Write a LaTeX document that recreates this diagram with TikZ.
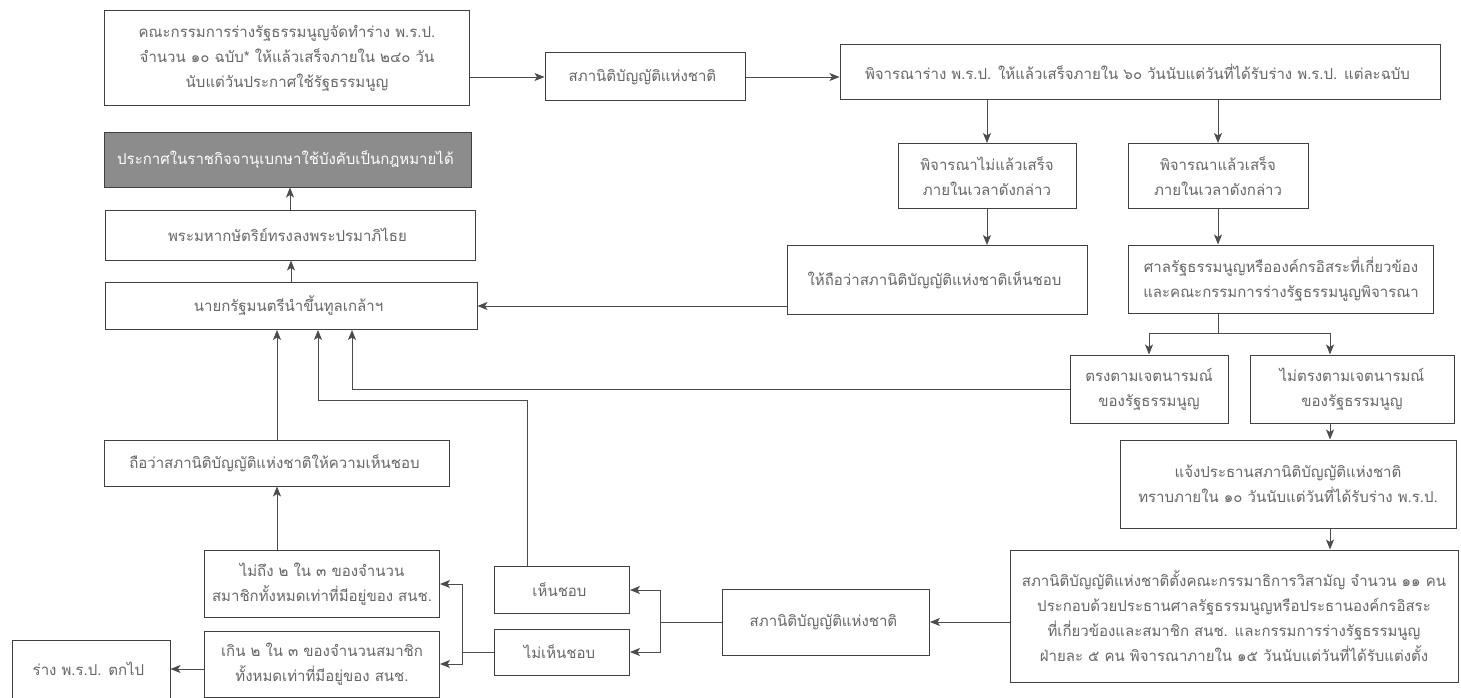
\documentclass[tikz,border=0pt]{standalone}
\usepackage{fontspec}
\usepackage{tikz}
\newfontfamily\thaifont[Script=Thai]{Loma}
\usetikzlibrary{arrows.meta, positioning}

\begin{document}
\begin{tikzpicture}[
            x=1pt, y=-1pt,
            color=black!70,
            >={Stealth[length=10pt,width=8pt,inset=2.5pt]},
                base/.style = {rectangle, draw=black!75, line width=1pt,
                            text centered, text=black!60,
                            font=\thaifont\fontsize{15}{25}\selectfont},
                process/.style = {base, fill=white},
                publish/.style = {base, fill=black!45, text=white},
            line width=0.8pt,
            align=center]
            \useasboundingbox (0,0) rectangle (1461,698);
            % left column
            \node (Draft) [process, minimum width=365, minimum height=95] at (287,58) {
                คณะกรรมการร่างรัฐธรรมนูญจัดทำร่าง พ.ร.ป.\\
                จำนวน ๑๐ ฉบับ* ให้แล้วเสร็จภายใน ๒๔๐ วัน\\
                นับแต่วันประกาศใช้รัฐธรรมนูญ
            };
            \node (Publish) [publish, minimum width=367, minimum height=54] at (288,160) {
                ประกาศในราชกิจจานุเบกษาใช้บังคับเป็นกฎหมายได้
            };
            \node (King) [process, minimum width=370, minimum height=50] at (290,235) {
                พระมหากษัตริย์ทรงลงพระปรมาภิไธย
            };
            \node (PrimeMinister) [process, minimum width=372, minimum height=47] at (291,306) {
                นายกรัฐมนตรีนำขึ้นทูลเกล้าฯ
            };
            \node (DeemedConsent) [process, minimum width=345, minimum height=46] at (277,463) {
                ถือว่าสภานิติบัญญัติแห่งชาติให้ความเห็นชอบ
            };
            \node (BelowTwoThirds) [process, minimum width=235, minimum height=67] at (322,584) {
                ไม่ถึง ๒ ใน ๓ ของจำนวน\\
                สมาชิกทั้งหมดเท่าที่มีอยู่ของ สนช.
            };
            \node (AboveTwoThirds) [process, minimum width=235, minimum height=66] at (322,664) {
                เกิน ๒ ใน ๓ ของจำนวนสมาชิก\\
                ทั้งหมดเท่าที่มีอยู่ของ สนช.
            };
            \node (Lapse) [process, minimum width=158, minimum height=58] at (91,669) {
                ร่าง พ.ร.ป. ตกไป
            };
            % top row
            \node (Assembly) [process, minimum width=200, minimum height=48] at (645,77) {
                สภานิติบัญญัติแห่งชาติ
            };
            \node (Consider) [process, minimum width=600, minimum height=55] at (1140,72) {
                พิจารณาร่าง พ.ร.ป. ให้แล้วเสร็จภายใน ๖๐ วันนับแต่วันที่ได้รับร่าง พ.ร.ป. แต่ละฉบับ
            };
            \node (NotDone) [process, minimum width=178, minimum height=65] at (987,176) {
                พิจารณาไม่แล้วเสร็จ\\
                ภายในเวลาดังกล่าว
            };
            \node (Done) [process, minimum width=180, minimum height=65] at (1218,176) {
                พิจารณาแล้วเสร็จ\\
                ภายในเวลาดังกล่าว
            };
            \node (Deemed) [process, minimum width=300, minimum height=69] at (937,280) {
                ให้ถือว่าสภานิติบัญญัติแห่งชาติเห็นชอบ
            };
            \node (Court) [process, minimum width=305, minimum height=68] at (1281,279) {
                ศาลรัฐธรรมนูญหรือองค์กรอิสระที่เกี่ยวข้อง\\
                และคณะกรรมการร่างรัฐธรรมนูญพิจารณา
            };
            \node (Consistent) [process, minimum width=158, minimum height=68] at (1149,389) {
                ตรงตามเจตนารมณ์\\
                ของรัฐธรรมนูญ
            };
            \node (Inconsistent) [process, minimum width=204, minimum height=68] at (1352,389) {
                ไม่ตรงตามเจตนารมณ์\\
                ของรัฐธรรมนูญ
            };
            \node (Notify) [process, minimum width=336, minimum height=88] at (1288,484) {
                แจ้งประธานสภานิติบัญญัติแห่งชาติ\\
                ทราบภายใน ๑๐ วันนับแต่วันที่ได้รับร่าง พ.ร.ป.
            };
            \node (Committee) [process, minimum width=448, minimum height=132] at (1234,616) {
                สภานิติบัญญัติแห่งชาติตั้งคณะกรรมาธิการวิสามัญ จำนวน ๑๑ คน\\
                ประกอบด้วยประธานศาลรัฐธรรมนูญหรือประธานองค์กรอิสระ\\
                ที่เกี่ยวข้องและสมาชิก สนช. และกรรมการร่างรัฐธรรมนูญ\\
                ฝ่ายละ ๕ คน พิจารณาภายใน ๑๕ วันนับแต่วันที่ได้รับแต่งตั้ง
            };
            \node (AssemblyVote) [process, minimum width=207, minimum height=66] at (826,622) {
                สภานิติบัญญัติแห่งชาติ
            };
            \node (Approve) [process, minimum width=135, minimum height=47] at (562,590) {
                เห็นชอบ
            };
            \node (Reject) [process, minimum width=135, minimum height=46] at (562,652) {
                ไม่เห็นชอบ
            };
            % bends
            \coordinate (CourtSplit) at (1218,333);
            \coordinate (VoteSplit) at (660,622);
            \coordinate (RejectSplit) at (462,652);
            \coordinate (ApproveBend) at (318,400);
            \coordinate (ConsistentBend) at (352,389);
            % arrows
            \draw[->]  (Draft.east |- Assembly.west)  -- (Assembly.west);
            \draw[->]  (Assembly.east)  -- (Assembly.east -| Consider.west);
            \draw[->]  (Consider.south -| NotDone.north)  -- (NotDone.north);
            \draw[->]  (Consider.south -| Done.north)     -- (Done.north);
            \draw[->]  (NotDone.south)  -- (NotDone.south |- Deemed.north);
            \draw[->]  (Done.south)     -- (Done.south |- Court.north);
            \draw      (Court.south -| CourtSplit) -- (CourtSplit);
            \draw[->]  (CourtSplit) -| (Consistent.north);
            \draw[->]  (CourtSplit) -| ([xshift=-22pt]Inconsistent.north);
            \draw[->]  ([xshift=-22pt]Inconsistent.south) -- ([xshift=-22pt]Inconsistent.south |- Notify.north);
            \draw[->]  ([xshift=-22pt]Inconsistent.south |- Notify.south) -- ([xshift=-22pt]Inconsistent.south |- Committee.north);
            \draw[->]  (Committee.west |- AssemblyVote.east) -- (AssemblyVote.east);
            \draw      (AssemblyVote.west) -- (VoteSplit);
            \draw[->]  (VoteSplit) |- (Approve.east);
            \draw[->]  (VoteSplit) |- (Reject.east);
            \draw      (Reject.west) -- (RejectSplit);
            \draw[->]  (RejectSplit) |- (BelowTwoThirds.east);
            \draw[->]  (RejectSplit) |- (AboveTwoThirds.east);
            \draw[->]  (AboveTwoThirds.west |- Lapse.east) -- (Lapse.east);
            \draw[->]  (BelowTwoThirds.north -| DeemedConsent.south) -- (DeemedConsent.south);
            \draw[->]  (DeemedConsent.north) -- (DeemedConsent.north |- PrimeMinister.south);
            \draw[->]  (Approve.north -| 527,0) |- (ApproveBend) -- (ApproveBend |- PrimeMinister.south);
            \draw[->]  (Consistent.west) -- (ConsistentBend) -- (ConsistentBend |- PrimeMinister.south);
            \draw[->]  (Deemed.west |- PrimeMinister.east) -- (PrimeMinister.east);
            \draw[->]  (PrimeMinister.north) -- (PrimeMinister.north |- King.south);
            \draw[->]  (King.north) -- (King.north |- Publish.south);
        \end{tikzpicture}
\end{document}
